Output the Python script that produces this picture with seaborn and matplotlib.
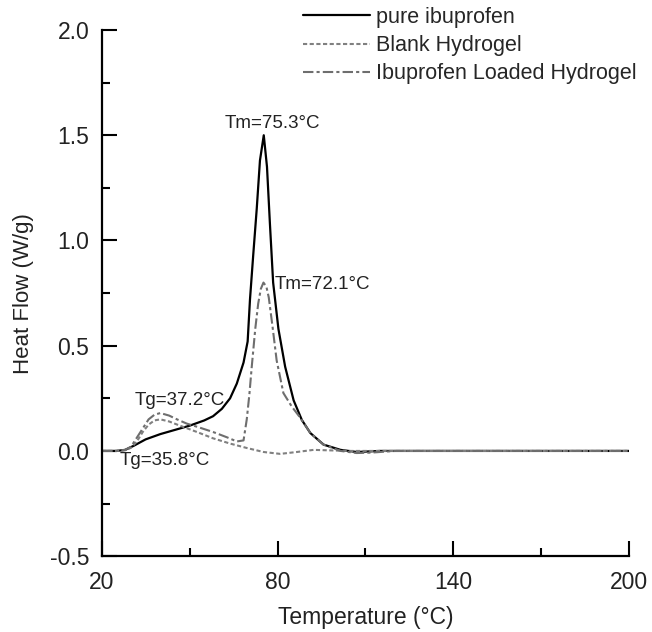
import numpy as np
import pandas as pd
import seaborn as sns
import matplotlib.pyplot as plt

# DSC curves
pure_x = [20, 25, 28, 31, 35, 40, 45, 50, 55, 58, 61, 63.8, 66.1, 68.4, 69.8, 70.6, 71.7, 72.9, 74.0,
          75.3, 76.4, 77.4, 78.5, 80.3, 82.6, 85.5, 88.3, 91.2, 95.7, 101.5, 107, 115, 130, 160, 200]
pure_y = [0.0, 0.0, 0.005, 0.025, 0.055, 0.08, 0.1, 0.12, 0.145, 0.165, 0.2, 0.25, 0.32, 0.42, 0.52, 0.72, 0.93, 1.15, 1.38,
          1.5, 1.35, 1.08, 0.80, 0.58, 0.40, 0.24, 0.147, 0.085, 0.03, 0.005, -0.005, 0.0, 0.0, 0.0, 0.0]

blank_x = [20, 25, 28, 30, 32, 34, 36, 38, 40, 43, 46.7, 52.5, 58, 63.8, 69.5, 75.2, 80.9, 86.6,
           92.3, 97, 105, 130, 160, 200]
blank_y = [0.0, 0.0, 0.003, 0.015, 0.045, 0.09, 0.125, 0.145, 0.15, 0.14, 0.12, 0.09, 0.06, 0.035, 0.014, -0.005, -0.014, -0.005,
           0.005, 0.003, 0.0, 0.0, 0.0, 0.0]

loaded_x = [20, 25, 28, 30, 33, 36, 38, 40, 43, 45.7, 49, 52.5, 58, 62.7, 66.1, 68.4, 69.5, 70.4, 71.2, 72.4, 73.4, 74.3,
            75.2, 76.2, 77.0, 78.3, 79.7, 82.0, 84.9, 87.8, 91.2, 95.7, 101.5, 107, 112, 120, 160, 200]
loaded_y = [0.0, 0.0, 0.005, 0.02, 0.085, 0.15, 0.172, 0.18, 0.168, 0.15, 0.13, 0.115, 0.09, 0.065, 0.045, 0.05, 0.15, 0.27, 0.40, 0.58, 0.70, 0.77,
            0.80, 0.78, 0.73, 0.59, 0.43, 0.275, 0.21, 0.157, 0.085, 0.03, 0.0, -0.01, -0.008, 0.0, 0.0, 0.0]

series_names = ["pure ibuprofen", "Blank Hydrogel", "Ibuprofen Loaded Hydrogel"]

x_major = [20, 80, 140, 200]
x_minor = [50, 110, 170]
y_major = [-0.5, 0.0, 0.5, 1.0, 1.5, 2.0]
y_minor = [-0.25, 0.25, 0.75, 1.25, 1.75]

# Annotations: (text, x, y, ha)
notes = [("Tm=75.3°C", 78.2, 1.555, "center"),
         ("Tm=72.1°C", 78.9, 0.79, "left"),
         ("Tg=37.2°C", 31.3, 0.242, "left"),
         ("Tg=35.8°C", 26.2, -0.045, "left")]

# Build the Data
pure = pd.DataFrame({"Temperature": pure_x, "Heat Flow": pure_y})
blank = pd.DataFrame({"Temperature": blank_x, "Heat Flow": blank_y})
loaded = pd.DataFrame({"Temperature": loaded_x, "Heat Flow": loaded_y})

# Build the Figure
sns.set_style("ticks")
plt.rcParams['font.family'] = ['Liberation Sans', 'DejaVu Sans']
plt.rcParams['axes.unicode_minus'] = False
fig = plt.figure(figsize=(6.52, 6.32), dpi=100)
ax = fig.add_axes([0.156, 0.120, 0.809, 0.8325])

sns.lineplot(data=pure, x="Temperature", y="Heat Flow", ax=ax, color="black", lw=1.6,
             label=series_names[0], sort=False)
sns.lineplot(data=blank, x="Temperature", y="Heat Flow", ax=ax, color="#808080", lw=1.5,
             label=series_names[1], sort=False)
sns.lineplot(data=loaded, x="Temperature", y="Heat Flow", ax=ax, color="#6e6e6e", lw=1.5,
             label=series_names[2], sort=False)
ax.lines[1].set_dashes([2, 1.2])
ax.lines[2].set_dashes([5, 1.5, 1.5, 1.5])

for txt, tx, ty, ha in notes:
    ax.text(tx, ty, txt, ha=ha, va="center", fontsize=13.5, color="#222222")

# Axis
ax.set_xlim(20, 200)
ax.set_ylim(-0.5, 2.0)
ax.set_xticks(x_major)
ax.set_xticks(x_minor, minor=True)
ax.set_yticks(y_major)
ax.set_yticks(y_minor, minor=True)
ax.set_yticklabels(["%.1f" % v for v in y_major])
ax.tick_params(which="major", direction="in", length=11, width=1.5, labelsize=16.5, color="black",
               labelcolor="#222222")
ax.tick_params(which="minor", direction="in", length=6, width=1.5, color="black")
ax.tick_params(axis="x", which="major", pad=11)
ax.tick_params(axis="y", which="major", pad=9)
for s in ["top", "right"]:
    ax.spines[s].set_visible(False)
for s in ["left", "bottom"]:
    ax.spines[s].set_linewidth(1.6)
    ax.spines[s].set_color("black")

ax.set_xlabel("Temperature (°C)", fontsize=16.5, labelpad=8, color="#222222")
ax.set_ylabel("Heat Flow (W/g)", fontsize=16, labelpad=11, color="#222222")

leg = ax.legend(loc="upper left", bbox_to_anchor=(303 / 652, 1 - 7 / 632), bbox_transform=fig.transFigure,
                frameon=False, fontsize=15.5, handlelength=3.1, handletextpad=0.3,
                labelspacing=0.33, borderpad=0, borderaxespad=0)

# Save Figure
fig.savefig("out.png", dpi=100)
